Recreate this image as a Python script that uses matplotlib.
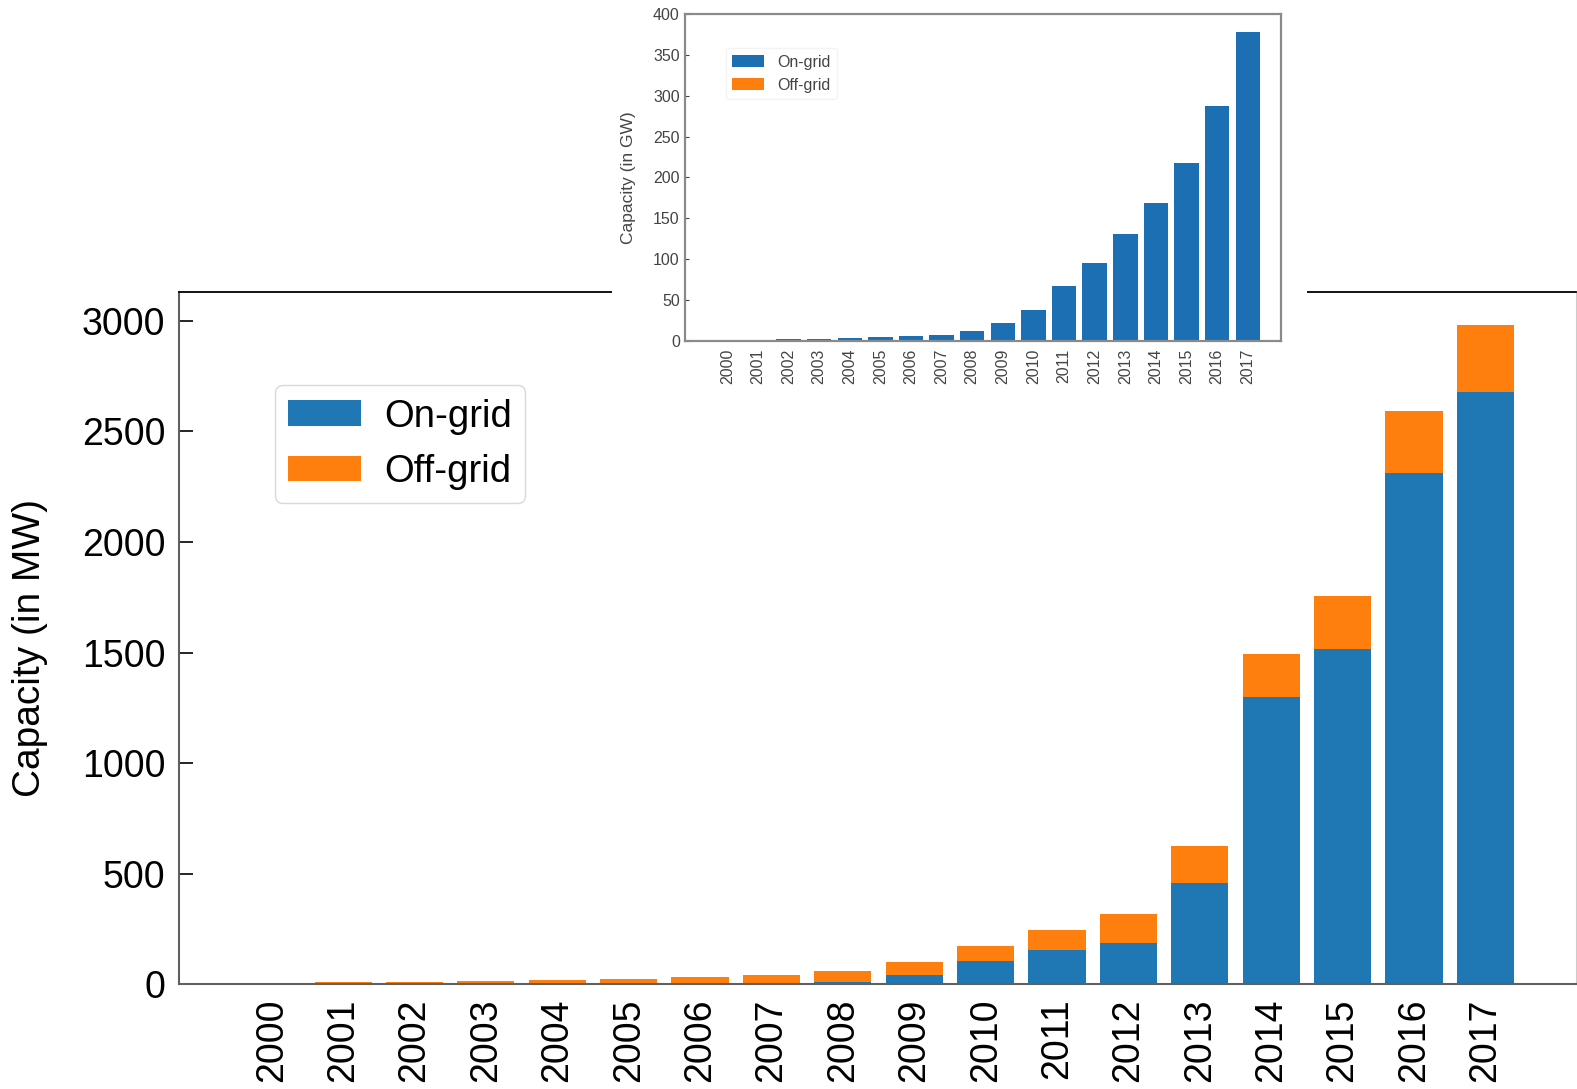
import matplotlib
matplotlib.use("Agg")
import matplotlib.pyplot as plt
from matplotlib.patches import Rectangle
import numpy as np

years = [str(y) for y in range(2000, 2018)]

# main chart, MW
on_grid_mw = [0, 0, 0, 0, 0, 0, 1, 6, 12, 42, 104, 154, 185, 457, 1297, 1517, 2311, 2680]
off_grid_mw = [8, 10, 12, 16, 20, 25, 34, 38, 48, 58, 71, 91, 131, 168, 196, 237, 280, 302]

# inset chart, GW
on_grid_gw = [0.3, 1.0, 1.4, 1.6, 3.0, 4.5, 5.8, 7.0, 12, 22, 37.6, 67, 95.5, 130, 168, 217, 287, 378]
off_grid_gw = [v / 1000 for v in off_grid_mw]

blue = "#1f77b4"
orange = "#ff7f0e"
fs = 27

plt.rcParams["font.family"] = ["Liberation Sans", "DejaVu Sans"]

fig = plt.figure(figsize=(15.77, 10.89), dpi=100)
ax = fig.add_axes([0.1137, 0.0961, 0.8857, 0.636])

x = np.arange(len(years))
ax.bar(x, on_grid_mw, 0.8, color=blue, label="On-grid")
ax.bar(x, off_grid_mw, 0.8, bottom=on_grid_mw, color=orange, label="Off-grid")

ax.set_xlim(-1.294, 18.27)
ax.set_ylim(0, 3131)
ax.set_yticks(range(0, 3001, 500))
ax.set_xticks(x)
ax.set_xticklabels(years, rotation=90)
ax.tick_params(axis="both", direction="in", labelsize=fs, length=10, width=1.2, pad=10)
ax.tick_params(axis="x", length=0, pad=10)
ax.set_ylabel("Capacity (in MW)", fontsize=fs + 1)
ax.yaxis.set_label_coords(-0.094, 0.485)
for side in ["left", "bottom"]:
    ax.spines[side].set_color("#606060")
    ax.spines[side].set_linewidth(1.5)
ax.spines["top"].set_linewidth(1.3)
ax.spines["right"].set_color("#cccccc")

ax.legend(loc="upper left", bbox_to_anchor=(0.0685, 0.865), borderaxespad=0,
          fontsize=27.5, edgecolor="#d0d0d0", handlelength=1.9, handleheight=0.65,
          handletextpad=0.6, borderpad=0.35)

# white patch behind the inset image
fig.add_artist(Rectangle((0.388, 0.637), 0.4408, 0.363, transform=fig.transFigure,
                         facecolor="white", edgecolor="none", zorder=1))

ins = fig.add_axes([0.4346, 0.6872, 0.3774, 0.2999])
ins.set_zorder(2)
ins.bar(x, on_grid_gw, 0.8, color="#1c6fb3", label="On-grid")
ins.bar(x, off_grid_gw, 0.8, bottom=on_grid_gw, color=orange, label="Off-grid")
ins.set_xlim(-1.37, 18.07)
ins.set_ylim(0, 400)
ins.set_yticks(range(0, 401, 50))
ins.set_xticks(x)
ins.set_xticklabels(years, rotation=90)
ins.tick_params(axis="both", direction="in", labelsize=11.5, length=3,
                colors="#444444", pad=4)
ins.tick_params(axis="x", length=0, pad=6)
ins.set_ylabel("Capacity (in GW)", fontsize=12.5, color="#444444", labelpad=12)
for s in ins.spines.values():
    s.set_color("#8a8a8a")
    s.set_linewidth(1.6)
ins.legend(loc="upper left", bbox_to_anchor=(0.055, 0.92), fontsize=11.5,
           edgecolor="#f0f0f0", labelcolor="#444444", handlelength=2.0)

fig.savefig("out.png", dpi=100)
